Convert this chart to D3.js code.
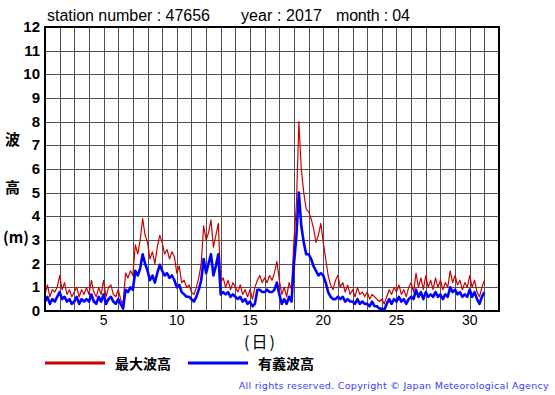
<!DOCTYPE html>
<html>
<head>
<meta charset="utf-8">
<script src="https://d3js.org/d3.v7.min.js"></script>
<style>
  body { margin: 0; background: #fff; }
  svg { display: block; }
</style>
</head>
<body>
<svg id="chart" width="555" height="395"></svg>
<script>
// 4-hourly values, 6 per day, day 1 00h .. day 31 00h
const maxWave = [
  0.7, 1.1, 0.6, 0.9, 0.8, 1.0,
  1.5, 0.9, 1.2, 0.7, 0.9, 0.6,
  0.8, 1.0, 0.6, 0.9, 0.7, 1.0,
  0.7, 1.3, 0.8, 0.6, 1.0, 0.7,
  1.3, 0.6, 1.0, 1.1, 0.7, 0.6,
  0.9, 0.5, 0.3, 1.6, 1.4, 1.7,
  1.5, 2.8, 2.4, 3.0, 3.9, 3.2,
  2.9, 2.2, 2.5, 2.0, 2.7, 3.2,
  2.9, 2.4, 2.6, 2.2, 2.5, 2.3,
  1.6, 1.9, 1.2, 1.3, 1.0, 1.1,
  0.8, 0.7, 1.0, 1.4, 2.0, 3.6,
  3.0, 3.3, 3.85, 2.7, 3.2, 3.7,
  1.2, 1.4, 1.0, 1.3, 0.9, 1.2,
  1.0, 0.8, 1.1, 0.7, 0.9, 0.6,
  0.9, 0.5, 1.0, 1.3, 1.5, 1.2,
  1.4, 1.2, 1.5, 1.3, 1.6, 2.1,
  1.3, 0.7, 1.0, 0.6, 1.2, 0.9,
  3.0, 4.5, 8.0, 6.0, 5.0, 4.3,
  4.2, 3.9, 3.5, 2.9, 3.2, 3.7,
  2.9, 2.2, 1.5, 1.1, 0.9, 1.3,
  1.5, 1.0, 1.2, 0.8, 1.1, 0.7,
  0.9, 0.6, 1.0, 0.7, 0.8, 0.6,
  0.8, 0.5, 0.7, 0.6, 0.5, 0.4,
  0.5, 0.3, 0.6, 0.9, 0.7, 1.0,
  0.8, 1.1, 0.7, 0.9, 0.6, 1.0,
  1.2, 0.8, 1.6, 1.0, 1.4, 0.9,
  1.5, 1.0, 1.3, 0.9, 1.4, 1.0,
  1.3, 0.9, 1.2, 1.0, 1.7, 1.2,
  1.5, 1.1, 1.3, 0.9, 1.2, 1.0,
  1.5, 1.0, 1.3, 0.8, 0.6, 1.0,
  1.3
];
const sigWave = [
  0.4, 0.6, 0.3, 0.5, 0.4, 0.6,
  0.8, 0.5, 0.6, 0.4, 0.5, 0.3,
  0.4, 0.6, 0.3, 0.5, 0.4, 0.5,
  0.4, 0.7, 0.4, 0.3, 0.6, 0.4,
  0.7, 0.3, 0.5, 0.6, 0.4, 0.3,
  0.5, 0.3, 0.1, 0.9, 0.8, 1.0,
  0.9, 1.7, 1.5, 1.8, 2.4, 2.0,
  1.7, 1.3, 1.5, 1.2, 1.6, 1.95,
  1.7, 1.5, 1.6, 1.4, 1.5, 1.3,
  1.0, 1.1, 0.8, 0.7, 0.6, 0.6,
  0.5, 0.4, 0.6, 0.9, 1.3, 2.2,
  1.6, 2.0, 2.4, 1.5, 1.9, 2.4,
  0.7, 0.8, 0.7, 0.8, 0.6, 0.7,
  0.6, 0.5, 0.6, 0.4, 0.5, 0.3,
  0.4, 0.2, 0.3, 0.9, 0.9, 0.8,
  0.8, 0.9, 0.8, 0.8, 0.9, 1.2,
  0.7, 0.3, 0.5, 0.3, 0.6, 0.4,
  2.0, 3.2, 5.0, 3.6, 2.9, 2.4,
  2.4, 2.2, 1.9, 1.7, 1.5, 1.6,
  1.5, 1.2, 0.8, 0.6, 0.5, 0.5,
  0.6, 0.5, 0.6, 0.4, 0.5, 0.4,
  0.4, 0.3, 0.5, 0.3, 0.4, 0.3,
  0.3, 0.2, 0.4, 0.2, 0.2, 0.1,
  0.1, 0.05, 0.3, 0.5, 0.3, 0.5,
  0.4, 0.6, 0.4, 0.5, 0.3, 0.5,
  0.6, 0.5, 0.9, 0.6, 0.8, 0.5,
  0.8, 0.6, 0.7, 0.6, 0.8, 0.6,
  0.7, 0.5, 0.7, 0.6, 1.0, 0.8,
  0.9, 0.7, 0.8, 0.6, 0.7, 0.6,
  0.9, 0.6, 0.8, 0.5, 0.3, 0.6,
  0.8
];
const perDay = 6;
const xTicks = [5, 10, 15, 20, 25, 30];
const yTicks = [0, 1, 2, 3, 4, 5, 6, 7, 8, 9, 10, 11, 12];
const seriesNames = ['最大波高', '有義波高'];
const seriesColors = ['#cc0000', '#0000ff'];

const svg = d3.select('#chart');
const plotL = 45, plotR = 499, plotT = 27, plotB = 311;

const x = d3.scaleLinear().domain([1, 32]).range([plotL, plotR]);
const y = d3.scaleLinear().domain([0, 12]).range([plotB, plotT]);

// grid
const grid = svg.append('g').attr('stroke', '#505050').attr('stroke-width', 1);
d3.range(2, 32).forEach(d => {
  grid.append('line')
    .attr('x1', Math.round(x(d)) + 0.5).attr('x2', Math.round(x(d)) + 0.5)
    .attr('y1', plotT).attr('y2', plotB);
});
yTicks.slice(1, -1).forEach(v => {
  grid.append('line')
    .attr('x1', plotL).attr('x2', plotR)
    .attr('y1', Math.round(y(v)) + 0.5).attr('y2', Math.round(y(v)) + 0.5);
});

// series
const line = d3.line()
  .x((d, i) => x(1 + i / perDay))
  .y(d => y(d));

svg.append('path').datum(maxWave)
  .attr('d', line).attr('fill', 'none')
  .attr('stroke', seriesColors[0]).attr('stroke-width', 1.2)
  .attr('stroke-linejoin', 'round');
svg.append('path').datum(sigWave)
  .attr('d', line).attr('fill', 'none')
  .attr('stroke', seriesColors[1]).attr('stroke-width', 2.6)
  .attr('stroke-linejoin', 'round');

// frame
svg.append('rect')
  .attr('x', plotL).attr('y', plotT)
  .attr('width', plotR - plotL).attr('height', plotB - plotT)
  .attr('fill', 'none').attr('stroke', '#000').attr('stroke-width', 2);

// y tick labels
svg.append('g').selectAll('text').data(yTicks).join('text')
  .attr('x', 40).attr('y', d => y(d) + 5)
  .attr('text-anchor', 'end')
  .attr('font-family', '"Liberation Sans Narrow", "Liberation Sans", Arial, sans-serif')
  .attr('font-weight', 'bold').attr('font-size', 15)
  .text(d => d);

// x tick labels
svg.append('g').selectAll('text').data(xTicks).join('text')
  .attr('x', d => x(d)).attr('y', 325)
  .attr('text-anchor', 'middle')
  .attr('font-family', 'Liberation Sans, Arial, sans-serif')
  .attr('font-size', 14)
  .text(d => d);

// y axis label
const cjk = '"Noto Sans CJK JP", sans-serif';
[['波', 5, 145], ['高', 5, 193], ['(m)', 3, 243]].forEach(([t, xx, yy]) => {
  svg.append('text')
    .attr('x', xx).attr('y', yy)
    .attr('font-family', cjk).attr('font-weight', 'bold')
    .attr('font-size', 15)
    .text(t);
});

svg.append('text')
  .attr('x', 244).attr('y', 348)
  .attr('font-family', cjk).attr('font-size', 16)
  .attr('textLength', 31).attr('lengthAdjust', 'spacing')
  .text('(日)');

// title
const title = svg.append('g')
  .attr('font-family', 'Liberation Sans, Arial, sans-serif')
  .attr('font-size', 16);
title.append('text').attr('x', 47).attr('y', 21)
  .attr('textLength', 163).attr('lengthAdjust', 'spacing')
  .text('station number : 47656');
title.append('text').attr('x', 241).attr('y', 21)
  .attr('textLength', 81).attr('lengthAdjust', 'spacing')
  .text('year : 2017');
title.append('text').attr('x', 336).attr('y', 21)
  .attr('textLength', 74).attr('lengthAdjust', 'spacing')
  .text('month : 04');

// legend
const legendX = [45, 188];
seriesNames.forEach((name, i) => {
  svg.append('line')
    .attr('x1', legendX[i]).attr('x2', legendX[i] + 60)
    .attr('y1', 363).attr('y2', 363)
    .attr('stroke', seriesColors[i]).attr('stroke-width', 3);
  svg.append('text')
    .attr('x', legendX[i] + 70).attr('y', 369)
    .attr('font-family', cjk).attr('font-weight', 'bold')
    .attr('font-size', 14)
    .text(name);
});

// copyright
svg.append('text')
  .attr('x', 549).attr('y', 389)
  .attr('text-anchor', 'end')
  .attr('font-family', 'DejaVu Sans, sans-serif')
  .attr('font-size', 9.5)
  .attr('letter-spacing', 0.3)
  .attr('fill', '#3a3aff')
  .text('All rights reserved. Copyright © Japan Meteorological Agency');
</script>
</body>
</html>
